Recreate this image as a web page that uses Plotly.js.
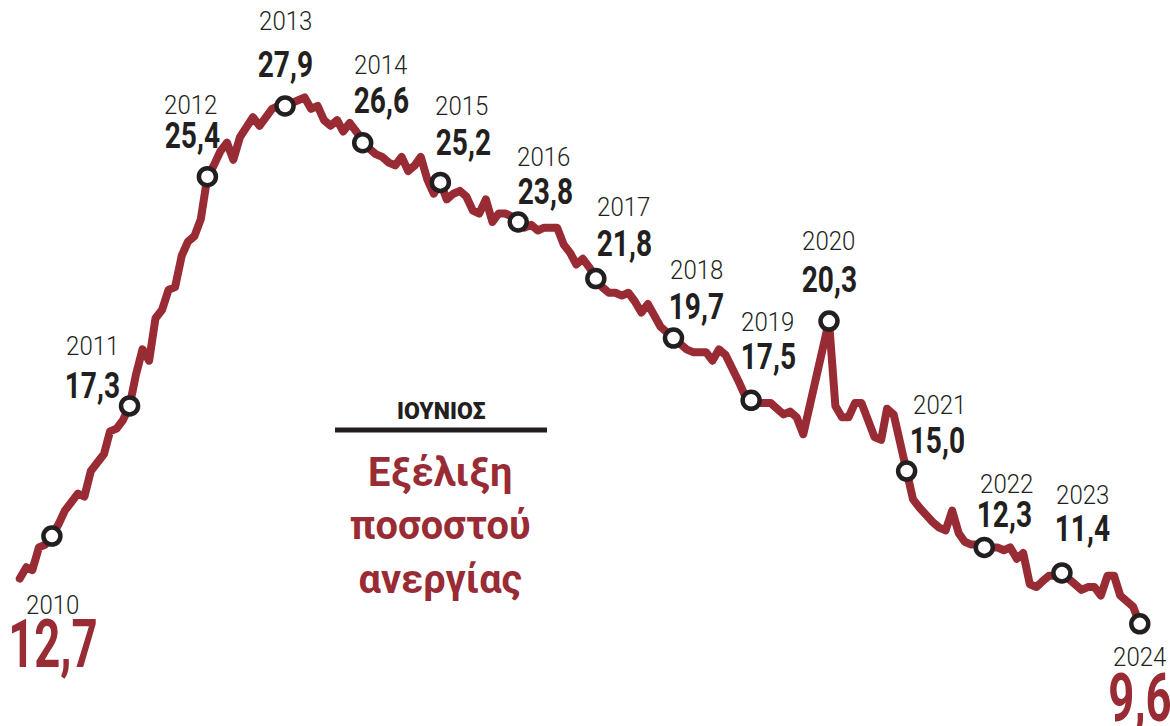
<!DOCTYPE html>
<html>
<head>
<meta charset="utf-8">
<script src="https://cdn.plot.ly/plotly-3.0.1.min.js"></script>
<style>
  html, body { margin: 0; padding: 0; background: #ffffff; }
  #chart { width: 1170px; height: 726px; }
  .scatterlayer .js-line { stroke-linejoin: round; stroke-linecap: round; }
</style>
</head>
<body>
<div id="chart"></div>
<script>
// Monthly unemployment rate (%), January to December of each year
const y2010 = [11.2, 11.6, 11.5, 12.3, 12.4, 12.7, 13.1, 13.6, 13.9, 14.2, 14.1, 15.0];
const y2011 = [15.3, 15.6, 16.4, 16.5, 16.8, 17.3, 18.4, 19.3, 18.9, 20.4, 20.7, 21.4];
const y2012 = [21.5, 22.6, 23.1, 23.3, 23.9, 25.4, 25.8, 26.3, 26.6, 26.0, 26.8, 27.2];
const y2013 = [27.5, 27.2, 27.5, 27.8, 27.9, 27.9, 28.0, 28.1, 28.2, 27.8, 27.9, 27.4];
const y2014 = [27.2, 27.4, 27.0, 27.3, 27.0, 26.6, 26.4, 26.2, 26.1, 25.9, 25.8, 26.1];
const y2015 = [25.6, 25.8, 26.1, 25.3, 24.8, 25.2, 24.6, 24.8, 24.9, 24.7, 24.2, 24.1];
const y2016 = [24.6, 23.8, 24.1, 24.1, 24.0, 23.8, 23.6, 23.7, 23.5, 23.6, 23.6, 23.6];
const y2017 = [23.0, 22.7, 22.3, 22.5, 22.2, 21.8, 21.5, 21.3, 21.3, 21.2, 21.3, 21.0];
const y2018 = [20.6, 20.9, 20.5, 20.1, 19.9, 19.7, 19.5, 19.3, 19.2, 19.2, 19.2, 18.9];
const y2019 = [19.3, 19.1, 18.6, 18.2, 17.7, 17.5, 17.4, 17.4, 17.4, 17.2, 17.0, 17.1];
const y2020 = [16.9, 16.3, 17.3, 18.1, 19.3, 20.3, 17.3, 16.9, 16.9, 17.4, 17.4, 16.7];
const y2021 = [16.2, 16.1, 17.2, 17.0, 16.1, 15.0, 14.0, 13.7, 13.4, 13.2, 13.0, 12.9];
const y2022 = [13.6, 12.8, 12.5, 12.4, 12.4, 12.3, 12.3, 12.3, 12.2, 12.3, 11.9, 12.1];
const y2023 = [11.0, 10.9, 11.1, 11.3, 11.3, 11.4, 11.2, 11.0, 10.8, 10.9, 10.9, 10.6];
const y2024 = [11.3, 11.3, 10.6, 10.4, 10.2, 9.6];

const years = [2010, 2011, 2012, 2013, 2014, 2015, 2016, 2017, 2018, 2019, 2020, 2021, 2022, 2023, 2024];
const yearSeries = [y2010, y2011, y2012, y2013, y2014, y2015, y2016, y2017, y2018, y2019, y2020, y2021, y2022, y2023, y2024];
const highlightMonth = 6; // June (ΙΟΥΝΙΟΣ)

const titleSmall = 'ΙΟΥΝΙΟΣ';
const titleLines = ['Εξέλιξη', 'ποσοστού', 'ανεργίας'];

// label placement (pixel offsets from each June marker): [dx, dy] for year and for value
const yearLabelOffset = [[1,69],[-37,-59],[-17,-71],[0,-84],[18,-77],[21,-76],[25,-65],[28,-71],[23,-68],[16,-78],[-1,-80],[33,-66],[22,-63],[21,-77],[0,34]];
const valueLabelOffset = [[1,108],[-37,-20],[-15,-41],[0,-41],[19,-42],[23,-40],[27,-31],[29,-35],[23,-32],[17,-44],[0,-42],[31,-31],[20,-33],[21,-44],[0,75]];

const RED = '#982b34';
const INK = '#231f20';

function pad(n) { return (n < 10 ? '0' : '') + n; }

const xs = [], ys = [];
const mx = [], my = [];
years.forEach((yr, i) => {
  yearSeries[i].forEach((v, j) => {
    const d = yr + '-' + pad(j + 1) + '-01';
    xs.push(d); ys.push(v);
    if (j + 1 === highlightMonth) { mx.push(d); my.push(v); }
  });
});

function fmt(v) { return v.toFixed(1).replace('.', ','); }

const annotations = [];
const condense = []; // horizontal squeeze per annotation (condensed typeface look)
mx.forEach((d, i) => {
  const big = i === 0 || i === mx.length - 1;
  annotations.push({
    x: d, y: my[i], xref: 'x', yref: 'y', showarrow: false,
    xanchor: 'center', yanchor: 'middle',
    xshift: yearLabelOffset[i][0], yshift: -yearLabelOffset[i][1],
    text: String(years[i]),
    font: { family: 'Roboto, "DejaVu Sans", sans-serif', size: 25, weight: 300, color: INK }
  });
  condense.push(0.96);
  annotations.push({
    x: d, y: my[i], xref: 'x', yref: 'y', showarrow: false,
    xanchor: 'center', yanchor: 'middle',
    xshift: valueLabelOffset[i][0], yshift: -valueLabelOffset[i][1],
    text: fmt(my[i]),
    font: big
      ? { family: 'Roboto, "DejaVu Sans Condensed", sans-serif', size: 66, weight: 700, color: RED }
      : { family: 'Roboto, "DejaVu Sans Condensed", sans-serif', size: 37, weight: 700, color: INK }
  });
  condense.push(big ? 0.69 : 0.76);
});

const W = 1170, H = 726;
annotations.push({
  x: 441 / W, y: 1 - 411 / H, xref: 'paper', yref: 'paper', showarrow: false,
  xanchor: 'center', yanchor: 'middle', text: titleSmall,
  font: { family: 'Roboto, "Liberation Sans", sans-serif', size: 23, weight: 900, color: INK }
});
condense.push(1);
annotations.push({
  x: 440 / W, y: 1 - 525 / H, xref: 'paper', yref: 'paper', showarrow: false,
  xanchor: 'center', yanchor: 'middle', align: 'center',
  text: titleLines.join('<br>'),
  font: { family: 'Roboto, "Open Sans", sans-serif', size: 41, weight: 700, color: RED }
});
condense.push(0.97);

const traces = [
  {
    x: xs, y: ys, type: 'scatter', mode: 'lines',
    line: { color: RED, width: 8 },
    hoverinfo: 'skip'
  },
  {
    x: mx, y: my, type: 'scatter', mode: 'markers',
    marker: { size: 17, color: '#ffffff', line: { color: INK, width: 4.5 } },
    hoverinfo: 'skip'
  }
];

const layout = {
  width: W, height: H,
  margin: { l: 0, r: 0, t: 0, b: 0, pad: 0 },
  paper_bgcolor: '#ffffff', plot_bgcolor: '#ffffff',
  showlegend: false,
  xaxis: { type: 'date', range: ['2009-09-30', '2024-10-21'], visible: false, showgrid: false, zeroline: false, fixedrange: true },
  yaxis: { range: [5.99, 31.645], visible: false, showgrid: false, zeroline: false, fixedrange: true },
  annotations: annotations,
  shapes: [{
    type: 'line', xref: 'paper', yref: 'paper',
    x0: 335 / W, x1: 547 / W, y0: 1 - 430 / H, y1: 1 - 430 / H,
    line: { color: INK, width: 5 }
  }]
};

Plotly.newPlot('chart', traces, layout, { displayModeBar: false, staticPlot: true }).then(gd => {
  gd.querySelectorAll('g.annotation').forEach(g => {
    const idx = +g.getAttribute('data-index');
    const t = g.querySelector('text.annotation-text');
    if (!t || condense[idx] === 1) return;
    t.style.transformBox = 'fill-box';
    t.style.transformOrigin = 'center';
    t.style.transform = 'scaleX(' + condense[idx] + ')';
  });
});
</script>
</body>
</html>
